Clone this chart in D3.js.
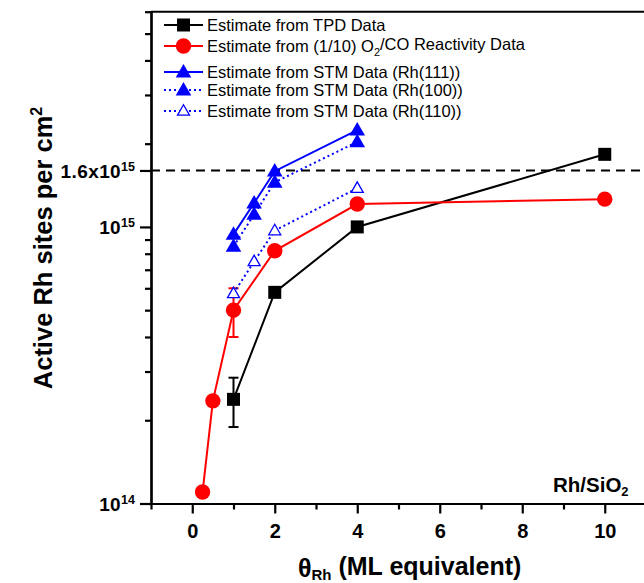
<!DOCTYPE html>
<html>
<head>
<meta charset="utf-8">
<script src="https://cdn.jsdelivr.net/npm/d3@7"></script>
<style>
  html, body { margin: 0; padding: 0; background: #fff; }
  svg { display: block; font-family: "Liberation Sans", Arial, sans-serif; }
</style>
</head>
<body>
<div id="canvas"></div>
<script>
// ---- data ----
const tpdX = [1, 2, 4, 10];
const tpdY = [2.38e14, 5.8e14, 1.0e15, 1.83e15];
const tpdErr = [{x: 1, lo: 1.89e14, hi: 2.85e14}];

const rxnX = [0.25, 0.5, 1, 2, 4, 10];
const rxnY = [1.10e14, 2.35e14, 5.0e14, 8.2e14, 1.21e15, 1.26e15];
const rxnErr = [{x: 1, lo: 4.0e14, hi: 6.0e14}];

const stmX = [1, 1.5, 2, 4];
const rh111 = [9.4e14, 1.22e15, 1.59e15, 2.24e15];
const rh100 = [8.5e14, 1.11e15, 1.45e15, 2.03e15];
const rh110 = [5.75e14, 7.5e14, 9.7e14, 1.38e15];

const xTicks = [0, 2, 4, 6, 8, 10];
const xMinor = [-1, 1, 3, 5, 7, 9, 11];
const yTicks = [1e14, 1e15, 1.6e15];
const yTickLabels = [["10", "14"], ["10", "15"], ["1.6x10", "15"]];
const yMinor = [2e14, 3e14, 4e14, 5e14, 6e14, 7e14, 8e14, 9e14, 2e15, 3e15, 4e15, 5e15, 6e15];
const refLine = 1.6e15;

const legendLabels = [
  "Estimate from TPD Data",
  "Estimate from (1/10) O|2|/CO Reactivity Data",
  "Estimate from STM Data (Rh(111))",
  "Estimate from STM Data (Rh(100))",
  "Estimate from STM Data (Rh(110))"
];

const W = 644, H = 583;
const pLeft = 151, pTop = 11.7, pBottom = 503.5, pRight = 646;

let svg = d3.select("#canvas")
  .append("svg")
    .attr("width", W)
    .attr("height", H);

let x = d3.scaleLinear().domain([-1, 11]).range([pLeft, pRight]);
let y = d3.scaleLog().domain([1e14, 6e15]).range([pBottom, pTop]);

// frame top line
svg.append("line")
  .attr("x1", pLeft).attr("x2", W)
  .attr("y1", pTop).attr("y2", pTop)
  .attr("stroke", "#000").attr("stroke-width", 2);

// dashed reference line
svg.append("line")
  .attr("x1", pLeft).attr("x2", W)
  .attr("y1", y(refLine)).attr("y2", y(refLine))
  .attr("stroke", "#000").attr("stroke-width", 2)
  .attr("stroke-dasharray", "9,6");

// axes
let xAxis = svg.append("g")
  .attr("transform", `translate(0,${pBottom})`)
  .call(d3.axisBottom(x).tickValues(xTicks).tickSize(10).tickSizeOuter(0).tickPadding(10).tickFormat(d3.format("d")));
svg.append("g")
  .attr("transform", `translate(0,${pBottom})`)
  .call(d3.axisBottom(x).tickValues(xMinor).tickSize(6).tickSizeOuter(0).tickFormat(""));

let yAxis = svg.append("g")
  .attr("transform", `translate(${pLeft},0)`)
  .call(d3.axisLeft(y).tickValues(yTicks).tickSize(11).tickSizeOuter(0).tickPadding(4).tickFormat(""));
svg.append("g")
  .attr("transform", `translate(${pLeft},0)`)
  .call(d3.axisLeft(y).tickValues(yMinor).tickSize(6).tickSizeOuter(0).tickFormat(""));

svg.selectAll(".domain").attr("stroke-width", 2.2).attr("stroke", "#000");
svg.selectAll(".tick line").attr("stroke-width", 2.2).attr("stroke", "#000");

xAxis.selectAll(".tick text")
  .attr("font-size", 20).attr("font-weight", "bold").attr("fill", "#000")
  .attr("font-family", "Liberation Sans, Arial, sans-serif");

// y tick labels with superscripts
yAxis.selectAll(".tick").each(function(d, i) {
  let t = d3.select(this).append("text")
    .attr("x", -16).attr("y", 0).attr("dy", "0.36em")
    .attr("text-anchor", "end")
    .attr("fill", "#000").attr("font-weight", "bold")
    .attr("font-size", 19).attr("letter-spacing", 0.4)
    .attr("font-family", "Liberation Sans, Arial, sans-serif");
  t.append("tspan").text(yTickLabels[i][0]);
  t.append("tspan").attr("dy", "-0.55em").attr("font-size", 12.5).attr("letter-spacing", 0).text(yTickLabels[i][1]);
});

// axis titles
let yt = svg.append("text")
  .attr("transform", "translate(52,248) rotate(-90)")
  .attr("text-anchor", "middle")
  .attr("font-size", 25.5).attr("font-weight", "bold");
yt.append("tspan").text("Active Rh sites per cm");
yt.append("tspan").attr("dy", "-0.6em").attr("font-size", 16).text("2");

let xt = svg.append("text")
  .attr("x", 298).attr("y", 576.5)
  .attr("font-size", 25).attr("font-weight", "bold");
xt.append("tspan").text("θ");
xt.append("tspan").attr("dy", "0.2em").attr("font-size", 15).text("Rh");
xt.append("tspan").attr("dy", "-0.2em").text(" (ML equivalent)");

// Rh/SiO2 label
let lab = svg.append("text")
  .attr("x", 553).attr("y", 491.5)
  .attr("font-size", 20.5).attr("font-weight", "bold");
lab.append("tspan").text("Rh/SiO");
lab.append("tspan").attr("dy", "0.35em").attr("font-size", 13).text("2");

// ---- series ----
let line = d3.line().x(d => x(d[0])).y(d => y(d[1]));
const zip = (xs, ys) => xs.map((v, i) => [v, ys[i]]);

const series = [
  {pts: zip(tpdX, tpdY), color: "#000", dash: null, marker: "square"},
  {pts: zip(rxnX, rxnY), color: "#ff0000", dash: null, marker: "circle"},
  {pts: zip(stmX, rh111), color: "#0000ff", dash: null, marker: "tri"},
  {pts: zip(stmX, rh100), color: "#0000ff", dash: "2,3", marker: "tri"},
  {pts: zip(stmX, rh110), color: "#0000ff", dash: "2,3", marker: "triOpen"}
];

function drawMarker(g, type, cx, cy, color, scale) {
  scale = scale || 1;
  if (type === "square") {
    let s = 13 * scale;
    g.append("rect").attr("x", cx - s / 2).attr("y", cy - s / 2)
      .attr("width", s).attr("height", s).attr("fill", color);
  } else if (type === "circle") {
    g.append("circle").attr("cx", cx).attr("cy", cy).attr("r", 7.7 * scale).attr("fill", color);
  } else if (type === "tri") {
    let w = 7.8 * scale, h = 13.5 * scale;
    g.append("path")
      .attr("d", `M${cx},${cy - h * 0.6}L${cx + w},${cy + h * 0.4}L${cx - w},${cy + h * 0.4}Z`)
      .attr("fill", color);
  } else {
    let w = 6 * scale, h = 10.5 * scale;
    g.append("path")
      .attr("d", `M${cx},${cy - h * 0.6}L${cx + w},${cy + h * 0.4}L${cx - w},${cy + h * 0.4}Z`)
      .attr("fill", "#fff").attr("stroke", color).attr("stroke-width", 1.3);
  }
}

// error bars
function errBars(data, color) {
  data.forEach(e => {
    let g = svg.append("g").attr("stroke", color).attr("stroke-width", 2);
    g.append("line").attr("x1", x(e.x)).attr("x2", x(e.x)).attr("y1", y(e.lo)).attr("y2", y(e.hi));
    g.append("line").attr("x1", x(e.x) - 5).attr("x2", x(e.x) + 5).attr("y1", y(e.lo)).attr("y2", y(e.lo));
    g.append("line").attr("x1", x(e.x) - 5).attr("x2", x(e.x) + 5).attr("y1", y(e.hi)).attr("y2", y(e.hi));
  });
}
errBars(tpdErr, "#000");
errBars(rxnErr, "#ff0000");

series.forEach(s => {
  svg.append("path")
    .datum(s.pts)
    .attr("d", line)
    .attr("fill", "none")
    .attr("stroke", s.color)
    .attr("stroke-width", 2)
    .attr("stroke-dasharray", s.dash);
});
series.forEach(s => {
  let g = svg.append("g");
  s.pts.forEach(p => drawMarker(g, s.marker, x(p[0]), y(p[1]), s.color));
});

// ---- legend ----
const legRows = [25, 46, 72, 90, 111];
series.forEach((s, i) => {
  let g = svg.append("g");
  let ry = legRows[i];
  g.append("line")
    .attr("x1", 164).attr("x2", 203).attr("y1", ry).attr("y2", ry)
    .attr("stroke", s.color).attr("stroke-width", 2)
    .attr("stroke-dasharray", s.dash);
  drawMarker(g, s.marker, 183.5, ry, s.color);
  let t = g.append("text")
    .attr("x", 207).attr("y", ry + 6)
    .attr("font-size", 16.5).attr("fill", "#000");
  let parts = legendLabels[i].split("|");
  t.append("tspan").text(parts[0]);
  if (parts.length > 1) {
    t.append("tspan").attr("dy", "0.35em").attr("font-size", 11).text(parts[1]);
    t.append("tspan").attr("dy", "-0.35em").text(parts[2]);
  }
});
</script>
</body>
</html>
